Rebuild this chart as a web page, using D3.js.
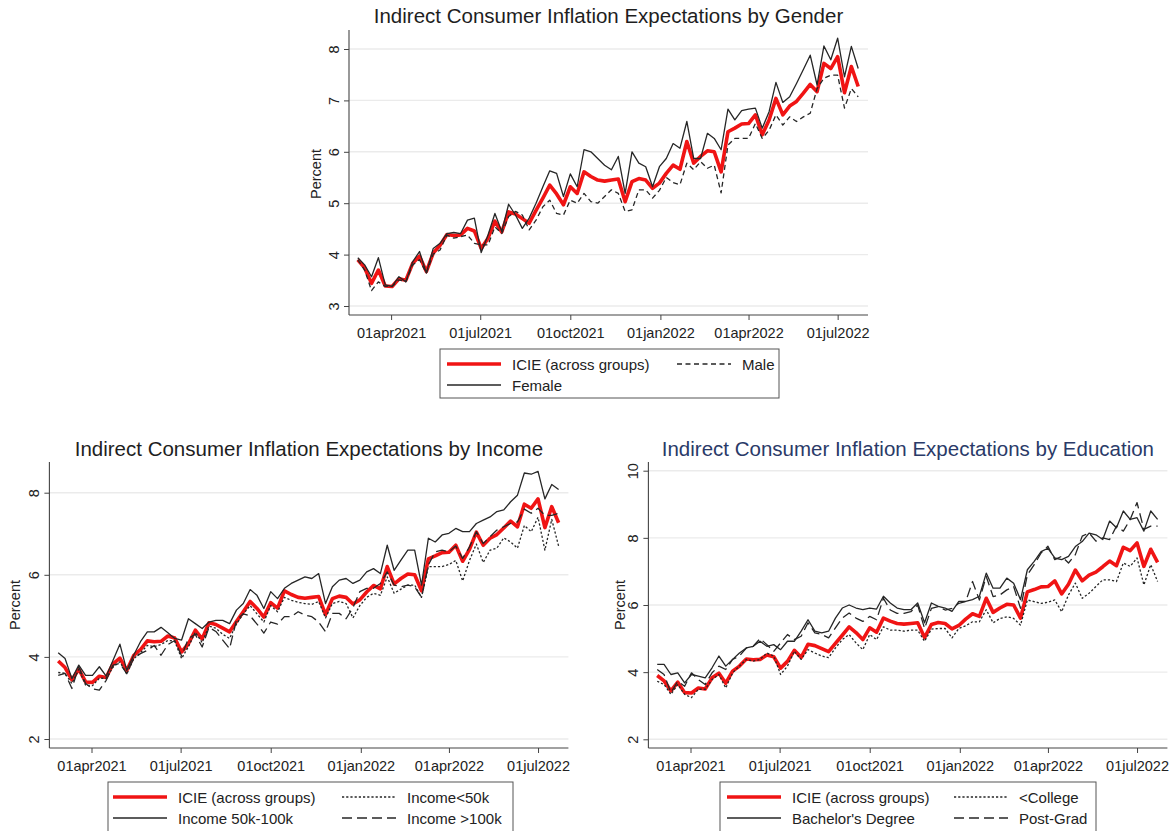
<!DOCTYPE html>
<html>
<head>
<meta charset="utf-8">
<script src="https://cdn.jsdelivr.net/npm/d3@7"></script>
<style>
  body { margin: 0; background: #fff; }
  svg { display: block; font-family: "Liberation Sans", Arial, Helvetica, sans-serif; }
</style>
</head>
<body>
<svg id="chart" width="1174" height="831"></svg>
<script>
// Weekly survey waves, first wave date
const firstWeek = "2021-02-26";

// Indirect consumer inflation expectations, percent
const icie = [3.90,3.74,3.44,3.70,3.39,3.38,3.53,3.50,3.83,3.97,3.67,4.03,4.18,4.39,4.37,4.38,4.51,4.46,4.12,4.32,
  4.65,4.44,4.83,4.79,4.70,4.61,4.86,5.10,5.35,5.18,4.97,5.32,5.19,5.61,5.52,5.45,5.43,5.45,5.47,5.03,
  5.42,5.48,5.45,5.29,5.39,5.58,5.74,5.66,6.20,5.78,5.91,6.02,6.00,5.61,6.39,6.46,6.54,6.55,6.72,6.33,
  6.62,7.04,6.72,6.89,6.98,7.14,7.31,7.17,7.72,7.62,7.85,7.15,7.66,7.27];

const male = [3.90,3.70,3.30,3.47,3.38,3.38,3.51,3.47,3.80,3.90,3.64,4.01,4.09,4.38,4.32,4.35,4.38,4.22,4.19,4.19,
  4.54,4.41,4.74,4.84,4.77,4.48,4.67,4.93,5.06,4.80,4.77,5.06,5.00,5.19,5.03,5.00,5.13,5.26,5.19,4.84,
  4.87,5.26,5.26,5.10,5.25,5.50,5.40,5.36,5.78,5.65,5.81,5.68,5.74,5.20,6.13,6.26,6.26,6.26,6.55,6.26,
  6.42,6.72,6.52,6.68,6.59,6.68,6.75,7.23,7.43,7.49,7.49,6.85,7.23,7.07];

const female = [3.94,3.80,3.57,3.94,3.41,3.38,3.57,3.47,3.86,4.06,3.64,4.12,4.22,4.41,4.43,4.41,4.67,4.71,4.04,4.38,
  4.80,4.45,4.98,4.77,4.51,4.71,5.00,5.32,5.63,5.58,5.13,5.57,5.32,6.04,6.00,5.87,5.74,5.65,5.91,5.19,
  6.00,5.78,5.71,5.32,5.71,5.87,6.16,6.07,6.59,5.87,5.87,6.36,6.26,6.04,6.83,6.62,6.80,6.83,6.85,6.46,
  6.78,7.35,6.96,7.07,7.33,7.60,7.88,7.30,8.06,7.79,8.21,7.46,8.05,7.62];

const incomeLow = [3.62,3.60,3.35,3.70,3.31,3.30,3.48,3.48,3.75,3.88,3.58,3.95,4.10,4.28,4.25,4.30,4.40,4.38,3.96,4.25,
  4.60,4.35,4.75,4.70,4.55,4.45,4.80,5.05,5.25,5.05,4.85,5.25,5.10,5.45,5.38,5.33,5.30,5.28,5.35,4.95,
  5.30,5.35,5.30,4.95,5.25,5.45,5.55,5.50,5.95,5.55,5.65,5.75,5.75,5.45,6.20,6.20,6.20,6.25,6.35,5.85,
  6.35,6.75,6.30,6.60,6.65,6.90,6.80,6.65,7.20,7.05,7.40,6.60,7.35,6.70];

const incomeMid = [4.10,3.96,3.47,3.80,3.55,3.55,3.76,3.53,3.92,4.31,3.67,4.04,4.37,4.61,4.61,4.72,4.59,4.45,4.41,4.93,
  4.81,4.69,4.85,4.89,4.89,4.81,5.14,5.30,5.64,5.50,5.18,5.59,5.42,5.67,5.79,5.87,5.95,5.91,6.03,5.30,
  5.71,5.87,5.91,5.79,5.87,6.07,6.15,6.03,6.72,6.11,6.36,6.60,6.60,5.75,6.89,6.80,6.97,7.01,7.13,7.05,
  7.05,7.25,7.33,7.41,7.54,7.58,7.78,7.94,8.48,8.45,8.52,7.85,8.20,8.08];

const incomeHigh = [3.55,3.60,3.23,3.76,3.35,3.22,3.19,3.43,3.80,3.84,3.59,3.96,4.08,4.16,4.28,4.04,4.30,4.40,4.02,4.45,
  4.55,4.24,4.72,4.62,4.41,4.20,4.90,5.05,5.00,4.80,4.58,4.85,4.80,4.98,4.98,5.10,5.02,4.98,4.85,4.61,
  5.06,5.06,4.93,5.20,5.59,5.67,5.67,5.79,6.07,5.75,5.71,5.75,5.71,5.45,6.24,6.56,6.60,6.56,6.70,6.40,
  6.68,7.05,6.76,6.93,7.09,7.17,7.25,7.29,7.60,7.50,7.62,7.45,7.45,7.50];

const lessCollege = [3.73,3.63,3.34,3.63,3.34,3.24,3.49,3.49,3.78,3.93,3.53,3.98,4.18,4.38,4.33,4.38,4.57,4.48,3.93,4.18,
  4.62,4.38,4.67,4.57,4.48,4.43,4.72,4.97,5.12,4.87,4.67,5.12,4.97,5.35,5.25,5.25,5.22,5.25,5.25,4.92,
  5.28,5.30,5.30,5.02,5.30,5.38,5.50,5.50,5.86,5.47,5.60,5.65,5.60,5.40,6.15,6.10,6.05,6.08,6.15,5.80,
  6.30,6.65,6.20,6.35,6.55,6.75,6.75,6.70,7.25,7.15,7.40,6.60,7.20,6.70];

const bachelor = [4.23,4.23,3.93,3.98,3.68,3.93,3.88,3.83,4.13,4.48,4.18,4.38,4.57,4.72,4.77,4.92,4.77,4.82,4.67,4.92,
  4.92,5.22,5.56,5.22,5.17,5.22,5.61,5.91,6.00,5.91,5.86,5.91,5.88,6.26,6.06,5.91,5.86,5.86,6.06,5.47,
  6.06,5.96,5.91,5.81,6.11,6.11,6.16,6.26,6.95,6.50,6.50,6.80,6.65,6.16,7.05,7.30,7.59,7.69,7.40,7.35,
  7.45,7.74,7.89,8.14,8.09,7.95,8.50,8.30,8.80,8.55,8.60,8.20,8.80,8.55];

const postGrad = [4.08,3.93,3.39,3.73,3.58,3.98,3.78,3.63,3.98,4.18,4.08,4.38,4.48,4.72,4.77,5.00,4.82,4.62,4.87,5.12,
  4.97,5.07,5.47,5.17,5.12,5.02,5.32,5.61,5.76,5.61,5.51,5.66,5.56,6.20,5.85,5.75,5.75,5.80,6.00,5.30,
  5.90,5.95,5.85,5.90,6.05,6.10,6.70,6.15,6.85,6.25,6.30,6.45,6.55,5.90,6.90,7.20,7.55,7.75,7.35,7.45,
  7.25,7.50,8.05,8.15,7.90,8.00,7.95,8.35,8.20,8.55,9.05,8.25,8.35,8.35];

// Axis tick dates and their labels
const xTickDates = ["2021-04-01","2021-07-01","2021-10-01","2022-01-01","2022-04-01","2022-07-01"];
const xTickLabels = ["01apr2021","01jul2021","01oct2021","01jan2022","01apr2022","01jul2022"];
const xDomain = ["2021-02-17","2022-08-01"];

const genderTicks = [3,4,5,6,7,8];
const incomeTicks = [2,4,6,8];
const educTicks = [2,4,6,8,10];

const parse = d3.utcParse("%Y-%m-%d");
const weeks = icie.map((_, i) => d3.utcDay.offset(parse(firstWeek), 7 * i));
const tickDates = xTickDates.map(parse);

const svg = d3.select("#chart");

const STYLES = {
  icie:   { stroke: "#f01414", width: 3.6, dash: null },
  solid:  { stroke: "#262626", width: 1.3, dash: null },
  dash:   { stroke: "#262626", width: 1.3, dash: "5,3.5" },
  long:   { stroke: "#262626", width: 1.3, dash: "10,5" },
  dot:    { stroke: "#262626", width: 1.3, dash: "2.2,2" }
};

function drawPanel(p) {
  const g = svg.append("g");
  const x = d3.scaleUtc().domain(xDomain.map(parse)).range([p.left, p.right]);
  const y = d3.scaleLinear().domain(p.yDomain).range(p.yRange);

  // horizontal gridlines
  g.append("g").selectAll("line").data(p.yTicks).join("line")
    .attr("x1", p.left).attr("x2", p.right)
    .attr("y1", d => y(d)).attr("y2", d => y(d))
    .attr("stroke", "#ebebeb").attr("stroke-width", 1.4);

  // series
  const line = d3.line().x((d, i) => x(weeks[i])).y(d => y(d));
  p.series.forEach(s => {
    const st = STYLES[s.style];
    g.append("path").datum(s.values)
      .attr("d", line)
      .attr("fill", "none")
      .attr("stroke", st.stroke)
      .attr("stroke-width", st.width)
      .attr("stroke-linejoin", "round")
      .attr("stroke-dasharray", st.dash);
  });

  // y axis
  const yAxis = g.append("g").attr("transform", `translate(${p.left},0)`)
    .call(d3.axisLeft(y).tickValues(p.yTicks).tickFormat(d3.format("d"))
      .tickSize(5).tickSizeOuter(0));
  yAxis.select(".domain").remove();
  yAxis.selectAll(".tick line").attr("stroke", "#444");
  yAxis.selectAll(".tick text")
    .attr("x", 0).attr("y", -10).attr("dy", 0)
    .attr("transform", "rotate(-90)")
    .attr("text-anchor", "middle")
    .attr("font-size", 14.5).attr("fill", "#222");
  g.append("line").attr("x1", p.left).attr("x2", p.left)
    .attr("y1", p.axisTop).attr("y2", p.axisBottom)
    .attr("stroke", "#444").attr("stroke-width", 1.1);

  // x axis
  const xAxis = g.append("g").attr("transform", `translate(0,${p.axisBottom})`)
    .call(d3.axisBottom(x).tickValues(tickDates)
      .tickFormat((d, i) => xTickLabels[i]).tickSize(5).tickSizeOuter(0).tickPadding(8));
  xAxis.select(".domain").remove();
  xAxis.selectAll(".tick line").attr("stroke", "#444");
  xAxis.selectAll(".tick text").attr("font-size", 14.5).attr("fill", "#222");
  g.append("line").attr("x1", p.left).attr("x2", p.right)
    .attr("y1", p.axisBottom).attr("y2", p.axisBottom)
    .attr("stroke", "#444").attr("stroke-width", 1.1);

  // y title
  g.append("text")
    .attr("transform", `translate(${p.yTitleX},${p.yTitleY}) rotate(-90)`)
    .attr("text-anchor", "middle").attr("font-size", 14.5).attr("fill", "#222")
    .text("Percent");

  // chart title
  g.append("text")
    .attr("x", (p.left + p.right) / 2).attr("y", p.titleY)
    .attr("text-anchor", "middle").attr("font-size", 20.5)
    .attr("fill", p.titleColor)
    .text(p.title);

  // legend
  const L = p.legend;
  g.append("rect").attr("x", L.x).attr("y", L.y).attr("width", L.w).attr("height", L.h)
    .attr("fill", "#fff").attr("stroke", "#555").attr("stroke-width", 1);
  L.items.forEach(it => {
    const st = STYLES[it.style];
    const col = it.col === 0 ? L.col0 : L.col1;
    const yy = L.y + (it.row === 0 ? L.row0 : L.row1);
    g.append("line").attr("x1", col).attr("x2", col + L.keyW)
      .attr("y1", yy).attr("y2", yy)
      .attr("stroke", st.stroke).attr("stroke-width", st.width)
      .attr("stroke-dasharray", st.dash);
    g.append("text").attr("x", col + L.keyW + L.gap).attr("y", yy + 5.5)
      .attr("font-size", 15).attr("fill", "#222").text(it.label);
  });
}

// Gender panel
drawPanel({
  left: 349, right: 868, yDomain: [3, 8], yRange: [306, 49], yTicks: genderTicks,
  axisTop: 30, axisBottom: 315, yTitleX: 321, yTitleY: 174,
  title: "Indirect Consumer Inflation Expectations by Gender", titleY: 23, titleColor: "#1e1e1e",
  series: [
    { values: icie, style: "icie" },
    { values: male, style: "dash" },
    { values: female, style: "solid" }
  ],
  legend: {
    x: 440, y: 349, w: 339, h: 49, col0: 447, col1: 677, keyW: 54, gap: 11, row0: 15, row1: 36,
    items: [
      { label: "ICIE (across groups)", style: "icie", col: 0, row: 0 },
      { label: "Male", style: "dash", col: 1, row: 0 },
      { label: "Female", style: "solid", col: 0, row: 1 }
    ]
  }
});

// Income panel
drawPanel({
  left: 49.4, right: 568.4, yDomain: [2, 8], yRange: [739, 492.7], yTicks: incomeTicks,
  axisTop: 462, axisBottom: 748, yTitleX: 20, yTitleY: 605,
  title: "Indirect Consumer Inflation Expectations by Income", titleY: 456, titleColor: "#1e1e1e",
  series: [
    { values: icie, style: "icie" },
    { values: incomeLow, style: "dot" },
    { values: incomeMid, style: "solid" },
    { values: incomeHigh, style: "long" }
  ],
  legend: {
    x: 108, y: 782, w: 405, h: 52, col0: 113, col1: 342, keyW: 54, gap: 11, row0: 15, row1: 36,
    items: [
      { label: "ICIE (across groups)", style: "icie", col: 0, row: 0 },
      { label: "Income<50k", style: "dot", col: 1, row: 0 },
      { label: "Income 50k-100k", style: "solid", col: 0, row: 1 },
      { label: "Income >100k", style: "long", col: 1, row: 1 }
    ]
  }
});

// Education panel
drawPanel({
  left: 648.4, right: 1167.4, yDomain: [2, 10], yRange: [739.3, 470.7], yTicks: educTicks,
  axisTop: 462, axisBottom: 748, yTitleX: 625, yTitleY: 605,
  title: "Indirect Consumer Inflation Expectations by Education", titleY: 456, titleColor: "#2a3a68",
  series: [
    { values: icie, style: "icie" },
    { values: lessCollege, style: "dot" },
    { values: bachelor, style: "solid" },
    { values: postGrad, style: "long" }
  ],
  legend: {
    x: 720, y: 782, w: 376, h: 52, col0: 727, col1: 954, keyW: 54, gap: 11, row0: 15, row1: 36,
    items: [
      { label: "ICIE (across groups)", style: "icie", col: 0, row: 0 },
      { label: "<College", style: "dot", col: 1, row: 0 },
      { label: "Bachelor's Degree", style: "solid", col: 0, row: 1 },
      { label: "Post-Grad", style: "long", col: 1, row: 1 }
    ]
  }
});
</script>
</body>
</html>
